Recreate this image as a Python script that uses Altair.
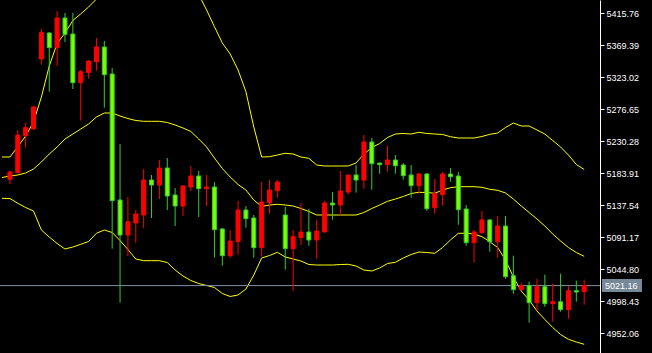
import altair as alt
import pandas as pd

opens = [5175.21, 5184.77, 5238.39, 5248.10, 5349.53, 5387.21, 5365.91, 5408.95, 5385.76, 5315.19,
         5329.68, 5345.62, 5366.92, 5327.80, 5145.21, 5094.49, 5111.88, 5123.47, 5174.19, 5166.95,
         5191.58, 5152.46, 5136.52, 5164.05, 5179.99, 5161.58, 5164.05, 5103.19, 5064.50, 5084.79,
         5130.72, 5119.13, 5076.09, 5141.29, 5158.69, 5123.47, 5074.64, 5090.58, 5098.84, 5087.25,
         5098.84, 5140.86, 5137.96, 5156.80, 5181.44, 5174.19, 5229.26, 5198.83, 5196.36, 5203.17,
         5195.93, 5181.44, 5165.93, 5182.88, 5134.05, 5152.89, 5182.88, 5179.99, 5132.17, 5083.33,
         5097.82, 5116.23, 5084.79, 5107.53, 5035.51, 5015.23, 5021.02, 4996.39, 5019.57, 4994.94,
         4997.84, 4986.24, 5013.78, 5012.33]
highs = [5187.23, 5246.65, 5257.23, 5281.43, 5393.01, 5388.66, 5419.09, 5416.19, 5416.19, 5333.59,
         5347.50, 5379.96, 5375.62, 5336.49, 5226.36, 5149.99, 5130.72, 5190.13, 5181.44, 5203.17,
         5206.07, 5162.60, 5166.95, 5194.48, 5187.23, 5181.44, 5171.29, 5104.64, 5101.74, 5143.76,
         5136.52, 5123.47, 5171.29, 5174.19, 5174.19, 5135.07, 5101.74, 5140.86, 5132.17, 5116.23,
         5143.76, 5156.80, 5187.23, 5181.44, 5195.93, 5239.40, 5235.05, 5198.83, 5223.46, 5210.42,
         5198.83, 5195.93, 5184.33, 5184.33, 5175.64, 5185.78, 5191.58, 5185.78, 5137.96, 5102.17,
         5129.27, 5117.68, 5122.02, 5122.02, 5064.50, 5025.37, 5026.82, 5031.16, 5036.96, 5023.92,
         5038.41, 5021.02, 5028.27, 5029.72]
lows = [5168.40, 5184.33, 5221.00, 5247.37, 5341.27, 5302.15, 5339.82, 5374.17, 5306.06, 5260.12,
        5320.99, 5332.58, 5278.96, 5074.64, 4996.39, 5064.06, 5083.33, 5104.64, 5119.13, 5146.66,
        5130.72, 5107.53, 5122.02, 5158.25, 5120.58, 5136.52, 5061.60, 5050.00, 5061.60, 5065.94,
        5105.07, 5061.60, 5063.05, 5125.36, 5148.54, 5044.21, 5013.78, 5080.00, 5078.98, 5060.15,
        5098.84, 5116.66, 5123.47, 5152.89, 5155.79, 5161.58, 5160.13, 5183.32, 5186.22, 5183.32,
        5174.63, 5148.54, 5154.34, 5129.70, 5125.36, 5136.95, 5171.73, 5109.42, 5078.98, 5054.35,
        5096.37, 5070.29, 5061.60, 5031.16, 5009.43, 5015.23, 4967.41, 4984.79, 4990.59, 4968.86,
        4983.34, 4973.21, 4997.84, 4993.49]
closes = [5185.78, 5239.40, 5249.98, 5279.98, 5387.64, 5365.91, 5408.95, 5385.33, 5315.19, 5331.13,
          5346.63, 5366.92, 5326.78, 5144.20, 5094.49, 5113.76, 5124.92, 5174.19, 5166.95, 5191.58,
          5151.01, 5136.52, 5165.50, 5179.99, 5161.58, 5164.05, 5102.17, 5064.50, 5085.80, 5130.72,
          5118.11, 5076.09, 5142.31, 5159.70, 5171.29, 5074.64, 5092.03, 5098.84, 5087.25, 5100.29,
          5140.86, 5137.96, 5158.25, 5181.44, 5174.19, 5229.26, 5197.81, 5196.36, 5203.17, 5194.91,
          5180.42, 5165.93, 5182.88, 5132.60, 5154.34, 5182.88, 5178.97, 5131.16, 5083.33, 5098.84,
          5116.23, 5084.79, 5107.53, 5034.06, 5015.23, 5021.02, 4996.39, 5019.57, 4994.94, 4997.84,
          4986.24, 5013.78, 5011.89, 5021.16]

# Bollinger bands, one value per bar starting one bar before the first visible candle
band_upper = [5207.52, 5207.52, 5222.45, 5237.95, 5258.24, 5294.47, 5339.39, 5371.99, 5387.21, 5405.32,
              5414.74, 5424.89, 5436.48, 5440.83, 5444.45, 5447.35, 5453.14, 5461.11, 5461.11, 5461.11,
              5461.11, 5460.39, 5464.01, 5464.01, 5460.39, 5443.00, 5420.54, 5396.34, 5372.72, 5356.78,
              5333.59, 5302.15, 5250.99, 5207.52, 5207.96, 5210.42, 5212.88, 5211.87, 5207.52, 5205.64,
              5195.93, 5194.48, 5194.48, 5194.48, 5194.48, 5198.83, 5211.87, 5221.29, 5227.08, 5235.78,
              5240.85, 5241.58, 5240.85, 5243.31, 5241.58, 5240.85, 5240.13, 5236.94, 5235.05, 5235.05,
              5235.05, 5237.23, 5240.42, 5242.30, 5250.27, 5256.79, 5252.44, 5252.44, 5246.65, 5240.85,
              5231.43, 5222.01, 5210.42, 5196.65, 5189.41]
band_middle = [5177.81, 5179.99, 5181.44, 5184.34, 5190.13, 5200.28, 5211.87, 5222.01, 5233.61, 5240.85,
               5248.10, 5255.34, 5265.49, 5271.28, 5271.28, 5266.93, 5263.31, 5260.41, 5259.25, 5259.25,
               5259.25, 5257.52, 5253.89, 5249.55, 5244.47, 5233.61, 5222.01, 5206.07, 5190.86, 5178.54,
               5167.67, 5159.70, 5145.21, 5135.79, 5137.96, 5138.98, 5137.96, 5136.52, 5132.89, 5128.55,
               5123.47, 5123.47, 5123.47, 5123.47, 5123.47, 5123.47, 5127.10, 5132.89, 5137.96, 5143.33,
               5146.66, 5150.28, 5154.63, 5156.37, 5156.08, 5154.92, 5159.70, 5163.03, 5164.48, 5164.48,
               5164.48, 5163.61, 5160.72, 5159.27, 5155.35, 5146.66, 5136.52, 5127.10, 5117.68, 5107.53,
               5095.94, 5085.80, 5076.38, 5069.13, 5063.63]
band_lower = [5147.67, 5147.38, 5140.43, 5134.34, 5129.27, 5101.74, 5091.59, 5082.17, 5074.20, 5077.10,
              5081.01, 5085.07, 5096.95, 5101.74, 5098.11, 5086.52, 5073.48, 5059.71, 5057.25, 5057.25,
              5057.25, 5054.64, 5043.77, 5035.08, 5028.56, 5024.21, 5021.31, 5018.41, 5009.72, 5005.37,
              5007.55, 5016.24, 5036.53, 5061.16, 5064.78, 5069.42, 5062.61, 5059.71, 5056.81, 5051.74,
              5051.02, 5051.02, 5051.02, 5051.74, 5052.03, 5049.57, 5043.77, 5042.32, 5046.67, 5053.19,
              5054.93, 5061.16, 5066.23, 5069.86, 5069.13, 5067.97, 5076.38, 5087.25, 5096.95, 5096.95,
              5095.94, 5092.03, 5084.78, 5076.38, 5058.26, 5033.63, 5013.34, 5000.30, 4984.36, 4972.04,
              4960.45, 4950.31, 4943.35, 4939.44, 4936.10]

y_ticks = [5415.76, 5369.39, 5323.02, 5276.65, 5230.28, 5183.91, 5137.54, 5091.17, 5044.80, 4998.43, 4952.06]
bid_price = 5021.16

n = len(opens)
candles = pd.DataFrame({
    "i": list(range(n)),
    "open": opens, "high": highs, "low": lows, "close": closes,
})
candles["dir"] = ["up" if c >= o else "down" for o, c in zip(opens, closes)]

bands = pd.DataFrame({
    "i": list(range(-1, n)),
    "upper": band_upper, "middle": band_middle, "lower": band_lower,
}).melt(id_vars="i", var_name="band", value_name="value")

bid_df = pd.DataFrame({"bid": [bid_price]})

xs = alt.Scale(domain=[-0.625, 74.375], nice=False, zero=False)
ys = alt.Scale(domain=[4923.5, 5435.03], nice=False, zero=False)
X = alt.X("i:Q", scale=xs, axis=None)

yaxis = alt.Axis(orient="right", values=y_ticks, format=".2f", title=None, grid=False,
                 labelColor="#FFFFFF", labelFontSize=9, labelFont="Liberation Sans",
                 tickColor="#FFFFFF", tickSize=4, labelPadding=2, domainColor="#FFFFFF",
                 labelFlush=False, labelOverlap=False, labelBound=False)

stroke_scale = alt.Scale(domain=["up", "down"], range=["#FF0000", "#32CD32"])
fill_scale = alt.Scale(domain=["up", "down"], range=["#FF0000", "#7CFC00"])

band_lines = alt.Chart(bands).mark_line(color="#FFFF00", strokeWidth=1, clip=True).encode(
    x=X, y=alt.Y("value:Q", scale=ys, axis=yaxis), detail="band:N", order="i:Q"
)

wicks = alt.Chart(candles).mark_rule(strokeWidth=1).encode(
    x=X, y=alt.Y("low:Q", scale=ys, axis=yaxis), y2="high:Q",
    stroke=alt.Stroke("dir:N", scale=stroke_scale, legend=None)
)

bodies = alt.Chart(candles).mark_bar(size=4, strokeWidth=1).encode(
    x=X, y=alt.Y("open:Q", scale=ys, axis=yaxis), y2="close:Q",
    fill=alt.Fill("dir:N", scale=fill_scale, legend=None),
    stroke=alt.Stroke("dir:N", scale=stroke_scale, legend=None)
)

bid_line = alt.Chart(bid_df).mark_rule(color="#8090A0", strokeWidth=1).encode(
    y=alt.Y("bid:Q", scale=ys, axis=yaxis)
)

bid_box = alt.Chart(bid_df).mark_tick(orient="horizontal", size=40, thickness=13,
                                      color="#778899", opacity=1, filled=True).encode(
    x=alt.value(622), y=alt.Y("bid:Q", scale=ys, axis=yaxis)
)

bid_text = alt.Chart(bid_df).mark_text(align="left", baseline="middle", color="#FFFFFF",
                                       fontSize=9, font="Liberation Sans").encode(
    x=alt.value(605), y=alt.Y("bid:Q", scale=ys, axis=yaxis), text=alt.Text("bid:Q", format=".2f")
)

chart = alt.layer(band_lines, bid_line, wicks, bodies, bid_box, bid_text).properties(
    width=600, height=353,
    padding={"left": 0, "right": 52, "top": 0, "bottom": 0},
    autosize=alt.AutoSizeParams(type="none"),
    background="#000000",
).configure_view(stroke=None).configure_axis(labelOverlap=False)

chart.save("out.html", embed_options={"renderer": "svg", "actions": False})
